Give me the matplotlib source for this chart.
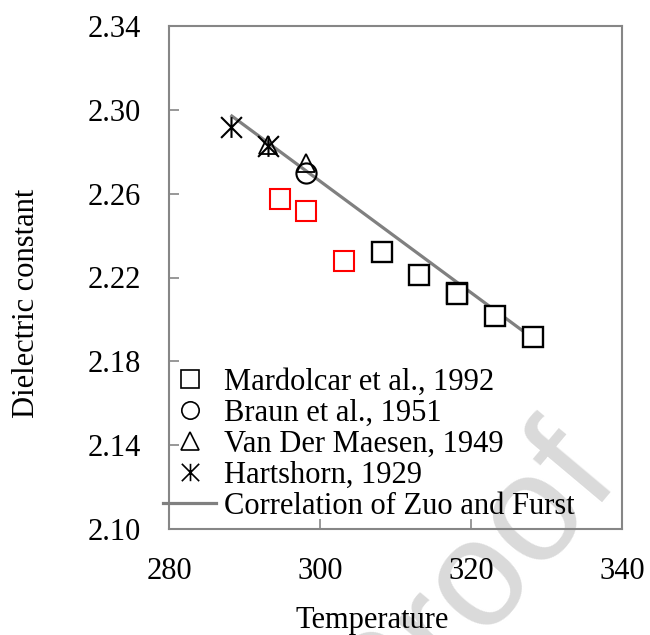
import matplotlib
matplotlib.use("Agg")
import matplotlib.pyplot as plt
from matplotlib.path import Path
from matplotlib.lines import Line2D

plt.rcParams['font.family'] = ['Liberation Serif', 'DejaVu Serif']

# ---- data ----
mardolcar_T = [308.15, 313.15, 318.15, 318.15, 323.15, 328.15]
mardolcar_eps = [2.2324, 2.2213, 2.2126, 2.2121, 2.2018, 2.1916]

red_T = [294.7, 298.2, 303.2]
red_eps = [2.2575, 2.2516, 2.2280]

braun_T = [298.1]
braun_eps = [2.2697]

vdm_T = [293.15, 298.1]
vdm_eps = [2.2833, 2.2744]

hart_T = [288.17, 293.15]
hart_eps = [2.2920, 2.2829]

corr_T = [288.15, 328.15]
corr_eps = [2.2975, 2.1911]

xticks = [280, 300, 320, 340]
yticks = [2.10, 2.14, 2.18, 2.22, 2.26, 2.30, 2.34]

# ---- figure ----
W, H = 650, 635
FS = 22
fig = plt.figure(figsize=(W / 100, H / 100), dpi=100)
ax = fig.add_axes([169 / W, 1 - 529 / H, (622 - 169) / W, (529 - 26) / H])
ax.set_facecolor('none')

fig.text(470 / W, 1 - 585 / H, "Proof", rotation=50, fontsize=110,
         color='#dadada', ha='center', va='center',
         family=['Liberation Sans', 'DejaVu Sans'], zorder=-1)

grey = '#808080'
ax.plot(corr_T, corr_eps, color=grey, lw=2.3, zorder=2,
        solid_capstyle='butt')

ax.plot(mardolcar_T, mardolcar_eps, ls='none', marker='s', ms=13.7,
        mfc='white', mec='black', mew=1.7, zorder=3)
ax.plot(red_T, red_eps, ls='none', marker='s', ms=13.7,
        mfc='white', mec='#ff0000', mew=1.5, zorder=3)
ax.plot(braun_T, braun_eps, ls='none', marker='o', ms=14.5,
        mfc='none', mec='black', mew=1.5, zorder=4)
ax.plot(vdm_T, vdm_eps, ls='none', marker='^', ms=13,
        mfc='none', mec='black', mew=1.3, zorder=4)

star = Path([(0, -1), (0, 1), (-1, -1), (1, 1), (-1, 1), (1, -1)],
            [Path.MOVETO, Path.LINETO, Path.MOVETO, Path.LINETO,
             Path.MOVETO, Path.LINETO])
ax.plot(hart_T, hart_eps, ls='none', marker=star, ms=15,
        mfc='none', mec='black', mew=1.5, zorder=5)

ax.set_xlim(280, 340)
ax.set_ylim(2.10, 2.34)
ax.set_xticks(xticks)
ax.set_yticks(yticks)
ax.set_xticklabels([str(t) for t in xticks])
ax.set_yticklabels([f"{t:.2f}" for t in yticks])

for s in ax.spines.values():
    s.set_color('#868686')
    s.set_linewidth(1.5)
ax.tick_params(direction='in', length=7.5, width=1.2, color='#868686',
               labelsize=FS, pad=20, labelcolor='black')

ax.set_xlabel("Temperature", fontsize=FS)
ax.set_ylabel("Dielectric constant", fontsize=FS)
ax.xaxis.set_label_coords(0.449, -0.153)
ax.yaxis.set_label_coords(-0.283, 0.449)

handles = [
    Line2D([], [], ls='none', marker='s', ms=12.5, mfc='none', mec='black', mew=1.2),
    Line2D([], [], ls='none', marker='o', ms=12.5, mfc='none', mec='black', mew=1.2),
    Line2D([], [], ls='none', marker='^', ms=12.5, mfc='none', mec='black', mew=1.2),
    Line2D([], [], ls='none', marker=star, ms=12.5, mfc='none', mec='black', mew=1.2),
    Line2D([], [], color=grey, lw=2.3),
]
labels = ["Mardolcar et al., 1992", "Braun et al., 1951",
          "Van Der Maesen, 1949", "Hartshorn, 1929",
          "Correlation of Zuo and Furst"]
leg = ax.legend(handles, labels, loc='upper left',
                bbox_to_anchor=(-0.0132, 0.321), frameon=False,
                borderpad=0, borderaxespad=0, handlelength=1.75,
                handletextpad=0.25, labelspacing=0.07, fontsize=FS)

fig.savefig("out.png", dpi=100)
